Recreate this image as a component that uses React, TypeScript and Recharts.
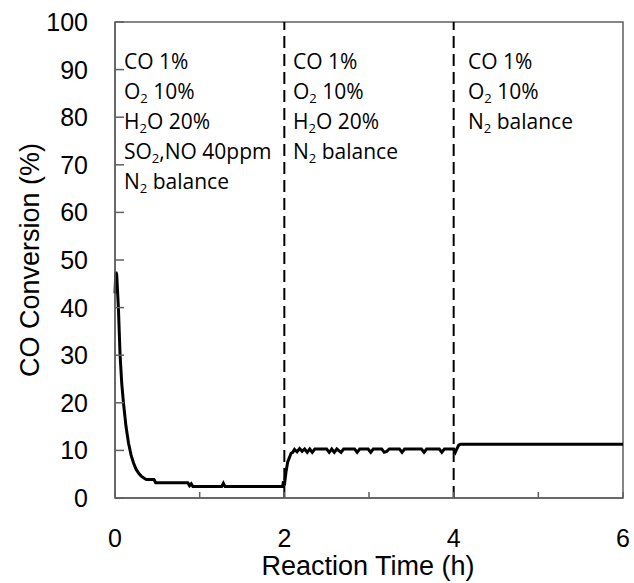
import { LineChart, Line, XAxis, YAxis, ReferenceLine, ReferenceArea } from 'recharts';

// Reaction time (h) and CO conversion (%)
const timeH = [
  0.0, 0.01, 0.02, 0.04, 0.06, 0.08, 0.1, 0.13, 0.16, 0.19, 0.22, 0.25, 0.28, 0.31, 0.34, 0.37,
  0.42, 0.46, 0.48, 0.6, 0.75, 0.86, 0.88, 0.9, 0.92, 1.0, 1.26, 1.28, 1.3, 1.6, 1.98, 1.99,
  2.0, 2.02, 2.04, 2.06, 2.08, 2.1, 2.12, 2.15, 2.18, 2.21, 2.24, 2.27, 2.3, 2.33, 2.36, 2.5,
  2.53, 2.56, 2.59, 2.62, 2.67, 2.7, 2.83, 2.86, 2.89, 2.99, 3.02, 3.05, 3.15, 3.18, 3.21, 3.24,
  3.36, 3.39, 3.42, 3.62, 3.65, 3.68, 3.83, 3.86, 3.89, 4.0, 4.02, 4.04, 4.06, 4.08, 4.5, 5.0,
  5.5, 6.0,
];
const conversion = [
  43, 47.5, 47, 40, 30, 24, 20, 15, 11.5, 9, 7.3, 6, 5.2, 4.6, 4.2, 3.9,
  3.9, 3.9, 3.2, 3.2, 3.2, 3.2, 2.6, 3.0, 2.4, 2.4, 2.4, 3.1, 2.4, 2.4, 2.4, 3.5,
  2.6, 5.5, 7.6, 8.5, 9.4, 9.6, 10.2, 9.7, 10.4, 9.8, 10.3, 9.6, 10.3, 9.6, 10.3, 10.3,
  9.6, 10.3, 9.6, 10.3, 9.6, 10.3, 10.3, 9.6, 10.3, 10.3, 9.6, 10.3, 10.3, 9.6, 9.8, 10.3,
  10.3, 9.6, 10.3, 10.3, 9.6, 10.3, 10.3, 9.6, 10.3, 10.3, 9.6, 10.4, 11.1, 11.3, 11.3, 11.3,
  11.3, 11.3,
];

const xTicks = [0, 1, 2, 3, 4, 5, 6];
const xLabelled = [0, 2, 4, 6];
const yTicks = [0, 10, 20, 30, 40, 50, 60, 70, 80, 90, 100];
const switchTimes = [2, 4];

const data = timeH.map((t, i) => ({ t, v: conversion[i] }));

const axisColor = '#5f5f5f';
const arial = '"Liberation Sans", Arial, sans-serif';
const calibri = '"Open Sans", "Noto Sans", sans-serif';

const XTick = (props: any) => {
  const { x, y, payload } = props;
  return (
    <g>
      <line x1={x} x2={x} y1={y} y2={y - 6} stroke={axisColor} strokeWidth={1.5} />
      {xLabelled.includes(payload.value) && (
        <text x={x} y={y + 49} textAnchor="middle" fontSize={25} fontFamily={arial} fill="#000">
          {payload.value}
        </text>
      )}
    </g>
  );
};

const YTick = (props: any) => {
  const { x, y, payload } = props;
  return (
    <g>
      <line x1={x} x2={x + 9} y1={y} y2={y} stroke={axisColor} strokeWidth={1.5} />
      <text x={x - 27} y={y + 9} textAnchor="end" fontSize={25} fontFamily={arial} fill="#000">
        {payload.value}
      </text>
    </g>
  );
};

const sub = { fontSize: '0.62em', verticalAlign: '-0.3em', lineHeight: 0 } as const;

// gas feed composition for each stage
const stages: { left: number; lines: React.ReactNode[] }[] = [
  {
    left: 124,
    lines: [
      'CO 1%',
      <>O<span style={sub}>2</span> 10%</>,
      <>H<span style={sub}>2</span>O 20%</>,
      <>SO<span style={sub}>2</span>,NO 40ppm</>,
      <>N<span style={sub}>2</span> balance</>,
    ],
  },
  {
    left: 293,
    lines: [
      'CO 1%',
      <>O<span style={sub}>2</span> 10%</>,
      <>H<span style={sub}>2</span>O 20%</>,
      <>N<span style={sub}>2</span> balance</>,
    ],
  },
  {
    left: 468,
    lines: ['CO 1%', <>O<span style={sub}>2</span> 10%</>, <>N<span style={sub}>2</span> balance</>],
  },
];

export default function App() {
  return (
    <div style={{ position: 'absolute', left: 0, top: 0, width: 634, height: 583, background: '#fff' }}>
      <LineChart width={634} height={583} data={data} margin={{ top: 22, right: 11, bottom: 0, left: 0 }}>
        <XAxis
          dataKey="t"
          type="number"
          domain={[0, 6]}
          ticks={xTicks}
          height={85}
          tickSize={0}
          tickMargin={0}
          tick={<XTick />}
          stroke={axisColor}
          strokeWidth={1.5}
          interval={0}
        />
        <YAxis
          type="number"
          domain={[0, 100]}
          ticks={yTicks}
          width={115}
          tickSize={0}
          tickMargin={0}
          tick={<YTick />}
          stroke={axisColor}
          strokeWidth={1.5}
          interval={0}
        />
        <ReferenceArea x1={0} x2={6} y1={0} y2={100} fill="none" stroke={axisColor} strokeWidth={1.5} />
        {switchTimes.map((s) => (
          <ReferenceLine key={s} x={s} stroke="#000" strokeWidth={2} strokeDasharray="12 6" />
        ))}
        <Line
          type="linear"
          dataKey="v"
          stroke="#000"
          strokeWidth={3}
          dot={false}
          isAnimationActive={false}
        />
      </LineChart>
      {stages.map((s, i) => (
        <div
          key={i}
          style={{
            position: 'absolute',
            left: s.left,
            top: 46,
            fontFamily: calibri,
            fontSize: 21,
            lineHeight: '30px',
            color: '#000',
            whiteSpace: 'nowrap',
          }}
        >
          {s.lines.map((l, j) => (
            <div key={j} style={{ height: 30 }}>
              {l}
            </div>
          ))}
        </div>
      ))}
      <div
        style={{
          position: 'absolute',
          left: 368,
          top: 566,
          transform: 'translate(-50%, -50%)',
          fontFamily: arial,
          fontSize: 27,
          whiteSpace: 'nowrap',
        }}
      >
        Reaction Time (h)
      </div>
      <div
        style={{
          position: 'absolute',
          left: 30,
          top: 260,
          transform: 'translate(-50%, -50%) rotate(-90deg)',
          fontFamily: arial,
          fontSize: 27,
          whiteSpace: 'nowrap',
        }}
      >
        CO Conversion (%)
      </div>
    </div>
  );
}
